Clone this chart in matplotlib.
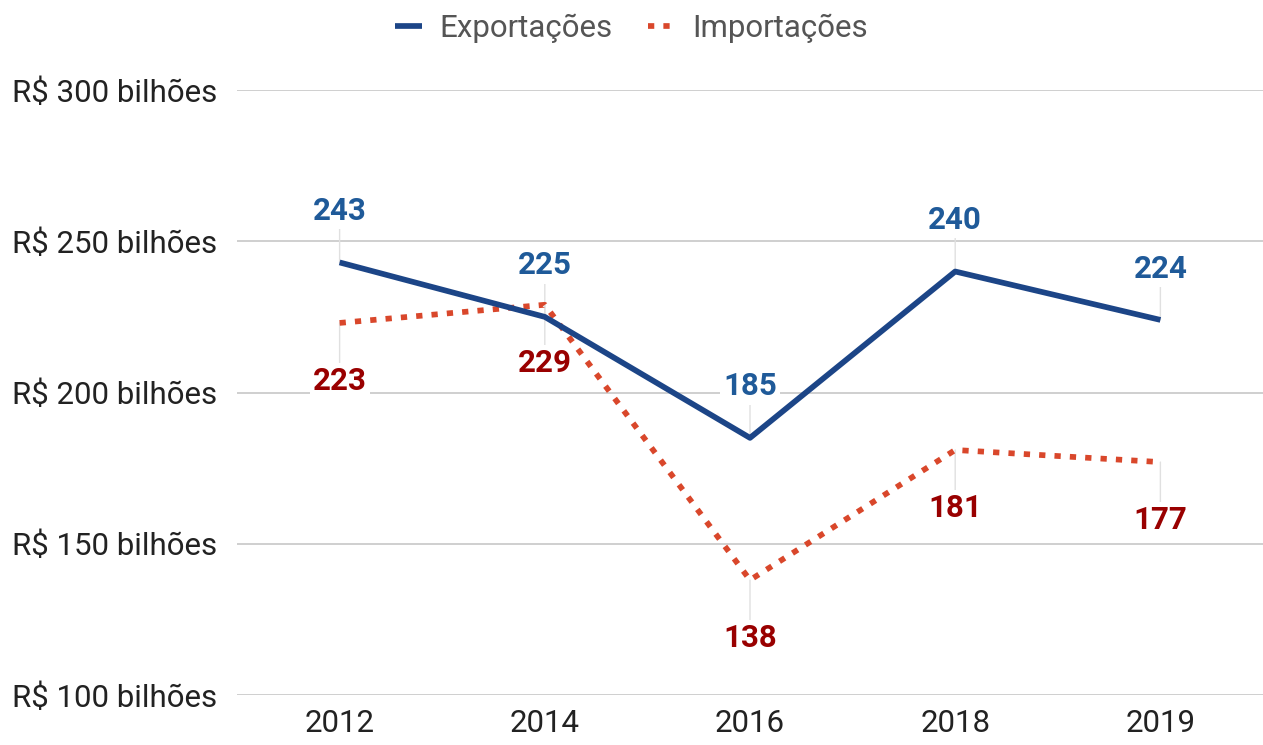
import matplotlib
matplotlib.use("Agg")
import matplotlib.pyplot as plt

years = ["2012", "2014", "2016", "2018", "2019"]
exportacoes = [243, 225, 185, 240, 224]
importacoes = [223, 229, 138, 181, 177]
y_ticks = [100, 150, 200, 250, 300]
y_tick_labels = ["R$ 100 bilhões", "R$ 150 bilhões", "R$ 200 bilhões", "R$ 250 bilhões", "R$ 300 bilhões"]

plt.rcParams['font.family'] = ['Roboto', 'DejaVu Sans']

fig = plt.figure(figsize=(12.63, 7.45), dpi=100)
ax = fig.add_axes([237/1263, 50/745, 1026/1263, 605/745])

x = list(range(len(years)))
exp_color = "#1c4587"
imp_color = "#d9472b"
exp_lbl = "#1f5a99"
imp_lbl = "#990000"

ax.plot(x, exportacoes, color=exp_color, lw=4.1, solid_capstyle='butt', zorder=4, label="Exportações")
ax.plot(x, importacoes, color=imp_color, lw=4.1, linestyle=(0, (1.1, 1.6)), dash_capstyle='butt', zorder=3, label="Importações")

for xi, v in zip(x, exportacoes):
    ax.annotate(str(v), xy=(xi, v), xytext=(0, 37), textcoords='offset points',
                ha='center', va='center', fontsize=22.5, fontweight='bold', color=exp_lbl,
                bbox=dict(boxstyle='square,pad=0.1', fc='white', ec='none'),
                arrowprops=dict(arrowstyle='-', color='#e0e0e0', lw=1, shrinkA=0, shrinkB=0),
                zorder=2)
for xi, v in zip(x, importacoes):
    ax.annotate(str(v), xy=(xi, v), xytext=(0, -42), textcoords='offset points',
                ha='center', va='center', fontsize=22.5, fontweight='bold', color=imp_lbl,
                bbox=dict(boxstyle='square,pad=0.1', fc='white', ec='none'),
                arrowprops=dict(arrowstyle='-', color='#e0e0e0', lw=1, shrinkA=0, shrinkB=0),
                zorder=2)

ax.set_xlim(-0.5, len(years) - 0.5)
ax.set_ylim(100, 300)
ax.set_xticks(x)
ax.set_xticklabels(years)
ax.set_yticks(y_ticks)
ax.set_yticklabels(y_tick_labels)
ax.tick_params(axis='both', length=0, labelsize=22.5, colors='#222222')
ax.tick_params(axis='y', pad=14)
ax.tick_params(axis='x', pad=10)
ax.grid(axis='y', color='#cccccc', lw=1.3, zorder=0)
ax.set_axisbelow(True)
for s in ax.spines.values():
    s.set_visible(False)

fig.legend(loc='upper center', bbox_to_anchor=(0.5, 0.998), borderaxespad=0, ncol=2, frameon=False,
           fontsize=22.5, labelcolor='#555555', handlelength=0.85, columnspacing=1.15,
           handletextpad=0.55)

fig.savefig("out.png", dpi=100)
